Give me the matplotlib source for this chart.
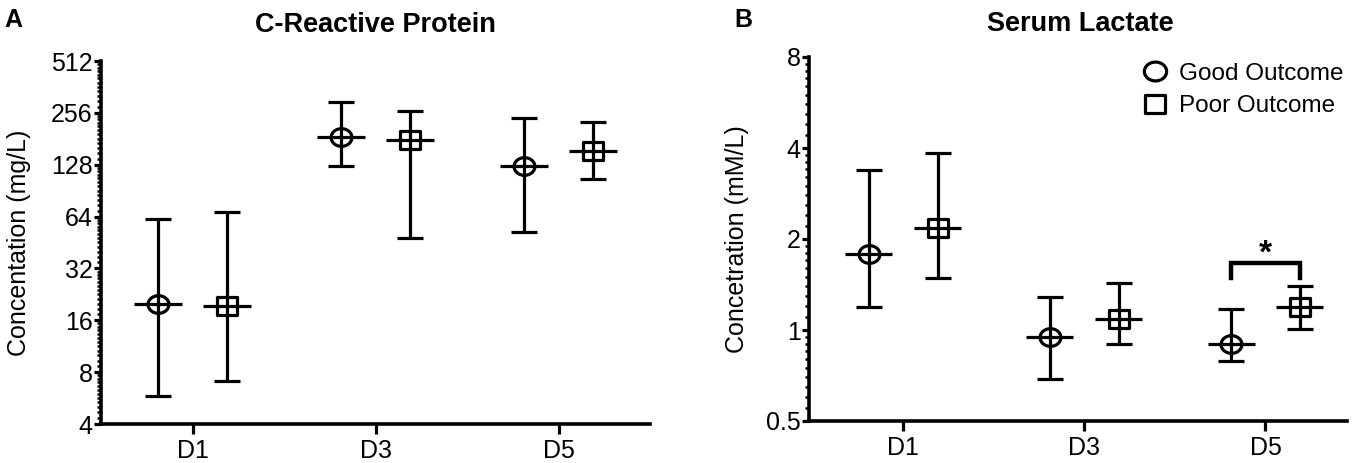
import numpy as np
import matplotlib
matplotlib.use("Agg")
import matplotlib.pyplot as plt
from matplotlib.ticker import FixedLocator, FixedFormatter, NullFormatter
from matplotlib.lines import Line2D
from matplotlib.path import Path

plt.rcParams['font.family'] = ['Liberation Sans', 'DejaVu Sans']

# data (median with range bars)
days = ['D1', 'D3', 'D5']

crp_good_mid = [20.0, 185, 126]
crp_good_lo = [5.8, 125, 52]
crp_good_hi = [62, 296, 240]
crp_poor_mid = [19.4, 177, 154]
crp_poor_lo = [7.1, 48, 106]
crp_poor_hi = [67.6, 263, 228]

lac_good_mid = [1.78, 0.95, 0.90]
lac_good_lo = [1.19, 0.69, 0.79]
lac_good_hi = [3.37, 1.29, 1.17]
lac_poor_mid = [2.17, 1.09, 1.19]
lac_poor_lo = [1.49, 0.90, 1.01]
lac_poor_hi = [3.86, 1.43, 1.40]

crp_ticks = [4, 8, 16, 32, 64, 128, 256, 512]
lac_ticks = [0.5, 1, 2, 4, 8]
lac_tick_labels = ['0.5', '1', '2', '4', '8']

LW = 2.3
OFF = 0.19
HALF = 0.13

# the original figure is a bit wider than tall in its markers
t = np.linspace(0, 2 * np.pi, 80)
ELLIPSE = Path(np.column_stack([1.18 * np.cos(t), np.sin(t)]), closed=True)
RECT = Path([(-1.1, -1), (1.1, -1), (1.1, 1), (-1.1, 1), (-1.1, -1)], closed=True)


def draw_group(ax, x, mid, lo, hi, marker, ms):
    mid = np.array(mid)
    yerr = [mid - np.array(lo), np.array(hi) - mid]
    ax.errorbar(x, mid, yerr=yerr, fmt='none', ecolor='black',
                elinewidth=LW, capsize=9.5, capthick=LW, zorder=3)
    ax.plot(x, mid, ls='none', marker=marker, ms=ms, mfc='none', mec='black',
            mew=LW, zorder=4)
    ax.hlines(mid, x - HALF, x + HALF, color='black', lw=LW, zorder=3)


def style_axes(ax, ticks, labels, n_minor):
    ax.set_yscale('log', base=2)
    ax.set_ylim(ticks[0], ticks[-1])
    ax.yaxis.set_major_locator(FixedLocator(ticks))
    ax.yaxis.set_major_formatter(FixedFormatter(labels))
    minors = []
    for a, b in zip(ticks[:-1], ticks[1:]):
        minors += [a + (b - a) * k / n_minor for k in range(1, n_minor)]
    ax.yaxis.set_minor_locator(FixedLocator(minors))
    ax.yaxis.set_minor_formatter(NullFormatter())
    ax.set_xticks(range(len(days)))
    ax.set_xticklabels(days)
    for s in ['top', 'right']:
        ax.spines[s].set_visible(False)
    for s in ['left', 'bottom']:
        ax.spines[s].set_linewidth(LW + 0.3)
    ax.tick_params(axis='y', which='major', length=5, width=LW, labelsize=18, pad=1)
    ax.tick_params(axis='y', which='minor', length=3, width=1.8)
    ax.tick_params(axis='x', length=7, width=LW, labelsize=18, pad=4)


fig = plt.figure(figsize=(13.58, 4.63), dpi=100)
x = np.arange(len(days))

# panel A
axA = fig.add_axes([101 / 1358, 39 / 463, 549 / 1358, 363 / 463])
draw_group(axA, x - OFF, crp_good_mid, crp_good_lo, crp_good_hi, ELLIPSE, 15)
draw_group(axA, x + OFF, crp_poor_mid, crp_poor_lo, crp_poor_hi, RECT, 14)
style_axes(axA, crp_ticks, [str(v) for v in crp_ticks], 12)
axA.set_xlim(-0.5, 2.5)
axA.set_ylabel('Concentation (mg/L)', fontsize=18)
axA.yaxis.set_label_coords(-0.128, 0.5)

# panel B
axB = fig.add_axes([809 / 1358, 42 / 463, 538 / 1358, 364 / 463])
draw_group(axB, x - OFF, lac_good_mid, lac_good_lo, lac_good_hi, ELLIPSE, 15)
draw_group(axB, x + OFF, lac_poor_mid, lac_poor_lo, lac_poor_hi, RECT, 14)
style_axes(axB, lac_ticks, lac_tick_labels, 10)
axB.set_xlim(-0.52, 2.45)
axB.set_ylabel('Concetration (mM/L)', fontsize=18)
axB.yaxis.set_label_coords(-0.112, 0.5)

fig.text(375 / 1358, 1 - 25 / 463, 'C-Reactive Protein', fontsize=19.5,
         fontweight='bold', ha='center', va='center')
fig.text(1080 / 1358, 1 - 24 / 463, 'Serum Lactate', fontsize=19.5,
         fontweight='bold', ha='center', va='center')

# significance bracket on D5
bx0, bx1 = 2 - OFF, 2 + OFF
axB.plot([bx0, bx0, bx1, bx1], [1.49, 1.66, 1.66, 1.49], color='black', lw=3.2,
         solid_joinstyle='miter', zorder=3)
axB.text(2, 1.79, '*', ha='center', va='center', fontsize=24, fontweight='bold')

handles = [
    Line2D([], [], ls='none', marker=ELLIPSE, ms=16, mfc='none', mec='black',
           mew=LW, label='Good Outcome'),
    Line2D([], [], ls='none', marker=RECT, ms=15, mfc='none', mec='black',
           mew=LW, label='Poor Outcome'),
]
axB.legend(handles=handles, loc='upper right', bbox_to_anchor=(1.035, 1.045),
           frameon=False, fontsize=17.5, handletextpad=0.4, labelspacing=0.45,
           handlelength=1.2)

fig.text(4 / 1358, 1 - 20 / 463, 'A', fontsize=18, fontweight='bold', va='center')
fig.text(734 / 1358, 1 - 20 / 463, 'B', fontsize=18, fontweight='bold', va='center')

fig.savefig('out.png', dpi=100)
